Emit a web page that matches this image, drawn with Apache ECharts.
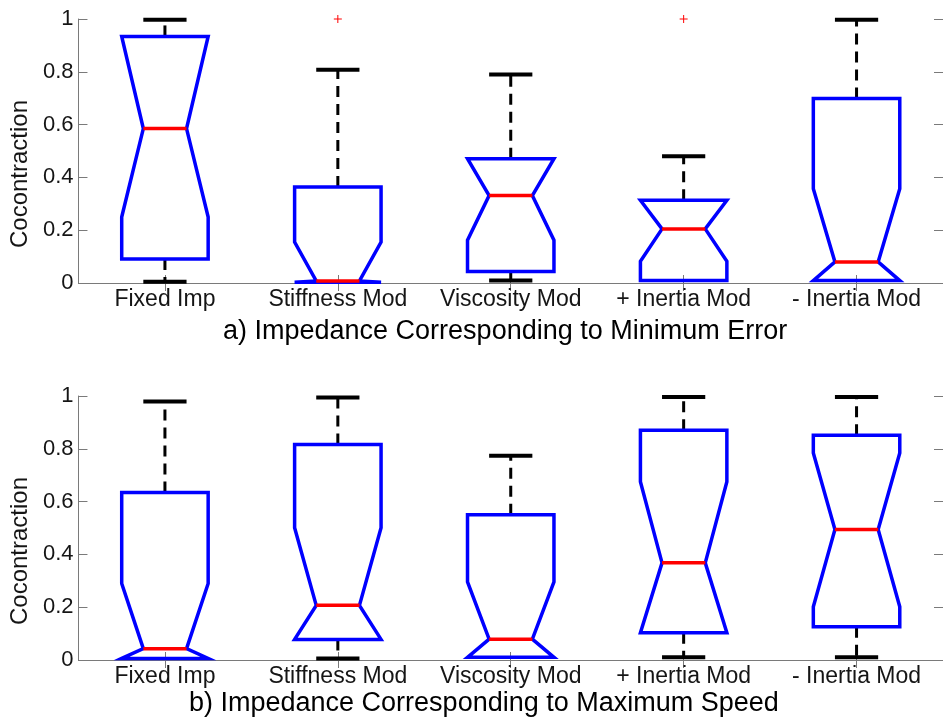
<!DOCTYPE html>
<html>
<head>
<meta charset="utf-8">
<title>Cocontraction boxplots</title>
<script src="https://cdn.jsdelivr.net/npm/echarts@6/dist/echarts.min.js"></script>
<style>
  html, body { margin: 0; padding: 0; background: #ffffff; }
  #chart { width: 943px; height: 725px; }
</style>
</head>
<body>
<div id="chart"></div>
<script>
// Conditions compared in both panels
const categories = ['Fixed Imp', 'Stiffness Mod', 'Viscosity Mod', '+ Inertia Mod', '- Inertia Mod'];

// Panel a) impedance at minimum error
const errLowWhisker  = [0.005, 0.003, 0.009, 0.009, 0.009];
const errQ1          = [0.091, 0.003, 0.044, 0.009, 0.009];
const errNotchLo     = [0.250, 0.003, 0.162, 0.082, 0.009];
const errMedian      = [0.585, 0.008, 0.331, 0.205, 0.080];
const errNotchHi     = [0.934, 0.155, 0.471, 0.313, 0.357];
const errQ3          = [0.934, 0.364, 0.471, 0.313, 0.699];
const errHighWhisker = [0.997, 0.808, 0.790, 0.480, 0.997];
const errOutliers    = [[1, 1.0], [3, 1.0]];

// Panel b) impedance at maximum speed
const spdLowWhisker  = [0.006, 0.006, 0.010, 0.010, 0.010];
const spdQ1          = [0.006, 0.078, 0.010, 0.103, 0.126];
const spdNotchLo     = [0.006, 0.078, 0.010, 0.103, 0.202];
const spdMedian      = [0.043, 0.207, 0.079, 0.368, 0.494];
const spdNotchHi     = [0.290, 0.501, 0.296, 0.675, 0.784];
const spdQ3          = [0.634, 0.816, 0.550, 0.870, 0.851];
const spdHighWhisker = [0.979, 0.994, 0.774, 0.996, 0.996];
const spdOutliers    = [];

const FONT = 'Liberation Sans, Arial, Helvetica, sans-serif';
const AXIS_GRAY = '#7a7a7a';
const TEXT = '#151515';

function boxRows(lo, q1, nlo, med, nhi, q3, hi) {
  return categories.map((_, i) => [i, lo[i], q1[i], nlo[i], med[i], nhi[i], q3[i], hi[i]]);
}

// Notched box: dashed whiskers with caps, blue outline, red median
function renderBox(params, api) {
  const c = api.value(0);
  const lo = api.value(1), q1 = api.value(2), nlo = api.value(3), med = api.value(4);
  const nhi = api.value(5), q3 = api.value(6), hi = api.value(7);
  const x = api.coord([c, 0])[0];
  const y = v => api.coord([c, v])[1];
  const w = api.size([1, 0])[0] * 0.25;
  const h = w / 2;
  const children = [];
  const whisker = { stroke: '#000', lineWidth: 3, lineDash: [11, 7] };
  const cap = { stroke: '#000', lineWidth: 4 };
  if (hi > q3) {
    children.push({ type: 'line', shape: { x1: x, y1: y(q3), x2: x, y2: y(hi) }, style: whisker });
    children.push({ type: 'line', shape: { x1: x - h, y1: y(hi), x2: x + h, y2: y(hi) }, style: cap });
  }
  if (lo < q1) {
    children.push({ type: 'line', shape: { x1: x, y1: y(q1), x2: x, y2: y(lo) }, style: whisker });
    children.push({ type: 'line', shape: { x1: x - h, y1: y(lo), x2: x + h, y2: y(lo) }, style: cap });
  }
  children.push({
    type: 'polygon',
    shape: {
      points: [
        [x - w, y(q1)], [x - w, y(nlo)], [x - h, y(med)], [x - w, y(nhi)], [x - w, y(q3)],
        [x + w, y(q3)], [x + w, y(nhi)], [x + h, y(med)], [x + w, y(nlo)], [x + w, y(q1)]
      ]
    },
    style: { fill: 'none', stroke: '#0000ff', lineWidth: 3.5, lineJoin: 'miter' }
  });
  children.push({ type: 'line', shape: { x1: x - h, y1: y(med), x2: x + h, y2: y(med) }, style: { stroke: '#ff0000', lineWidth: 3.5 } });
  return { type: 'group', children: children };
}

// Outliers drawn as small red plus signs
function renderOutlier(params, api) {
  const p = api.coord([api.value(0), api.value(1)]);
  const s = 4;
  const st = { stroke: '#ff0000', lineWidth: 1 };
  return {
    type: 'group',
    children: [
      { type: 'line', shape: { x1: p[0] - s, y1: p[1], x2: p[0] + s, y2: p[1] }, style: st },
      { type: 'line', shape: { x1: p[0], y1: p[1] - s, x2: p[0], y2: p[1] + s }, style: st }
    ]
  };
}

function xAxes(gridIndex) {
  const common = {
    type: 'category', data: categories, gridIndex: gridIndex,
    axisLine: { show: true, lineStyle: { color: AXIS_GRAY, width: 1 } },
    axisTick: { show: true, inside: true, alignWithLabel: true, length: 8, lineStyle: { color: AXIS_GRAY } },
    splitLine: { show: false }
  };
  return [
    Object.assign({}, common, {
      position: 'bottom',
      axisLabel: { color: TEXT, fontSize: 23, fontFamily: FONT, margin: 5, interval: 0 }
    }),
    Object.assign({}, common, { position: 'top', axisLabel: { show: false } })
  ];
}

function yAxes(gridIndex) {
  const common = {
    type: 'value', min: 0, max: 1, interval: 0.2, gridIndex: gridIndex,
    axisLine: { show: true, lineStyle: { color: AXIS_GRAY, width: 1 } },
    axisTick: { show: true, inside: true, length: 9, lineStyle: { color: AXIS_GRAY } },
    splitLine: { show: false }
  };
  return [
    Object.assign({}, common, {
      position: 'left',
      axisLabel: { color: TEXT, fontSize: 22, fontFamily: FONT, margin: 5 },
      name: 'Cocontraction', nameLocation: 'middle', nameGap: 44,
      nameTextStyle: { color: TEXT, fontSize: 24, fontFamily: FONT, padding: [0, 46, 0, 0] }
    }),
    Object.assign({}, common, { position: 'right', axisLabel: { show: false } })
  ];
}

const chart = echarts.init(document.getElementById('chart'), null, { renderer: 'canvas' });

chart.setOption({
  animation: false,
  backgroundColor: '#ffffff',
  title: [
    { text: 'a) Impedance Corresponding to Minimum Error', left: 223, top: 318, padding: 0,
      textStyle: { color: '#000', fontSize: 27, fontWeight: 'normal', fontFamily: FONT } },
    { text: 'b) Impedance Corresponding to Maximum Speed', left: 189, top: 690, padding: 0,
      textStyle: { color: '#000', fontSize: 27, fontWeight: 'normal', fontFamily: FONT } }
  ],
  grid: [
    { left: 78, right: -6, top: 19, height: 264 },
    { left: 78, right: -6, top: 396, height: 264 }
  ],
  xAxis: xAxes(0).concat(xAxes(1)),
  yAxis: yAxes(0).concat(yAxes(1)),
  series: [
    { type: 'custom', xAxisIndex: 0, yAxisIndex: 0, renderItem: renderBox, clip: false,
      encode: { x: 0, y: [1, 2, 3, 4, 5, 6, 7] },
      data: boxRows(errLowWhisker, errQ1, errNotchLo, errMedian, errNotchHi, errQ3, errHighWhisker) },
    { type: 'custom', xAxisIndex: 0, yAxisIndex: 0, renderItem: renderOutlier, clip: false,
      encode: { x: 0, y: 1 }, data: errOutliers },
    { type: 'custom', xAxisIndex: 2, yAxisIndex: 2, renderItem: renderBox, clip: false,
      encode: { x: 0, y: [1, 2, 3, 4, 5, 6, 7] },
      data: boxRows(spdLowWhisker, spdQ1, spdNotchLo, spdMedian, spdNotchHi, spdQ3, spdHighWhisker) },
    { type: 'custom', xAxisIndex: 2, yAxisIndex: 2, renderItem: renderOutlier, clip: false,
      encode: { x: 0, y: 1 }, data: spdOutliers }
  ]
});
</script>
</body>
</html>
